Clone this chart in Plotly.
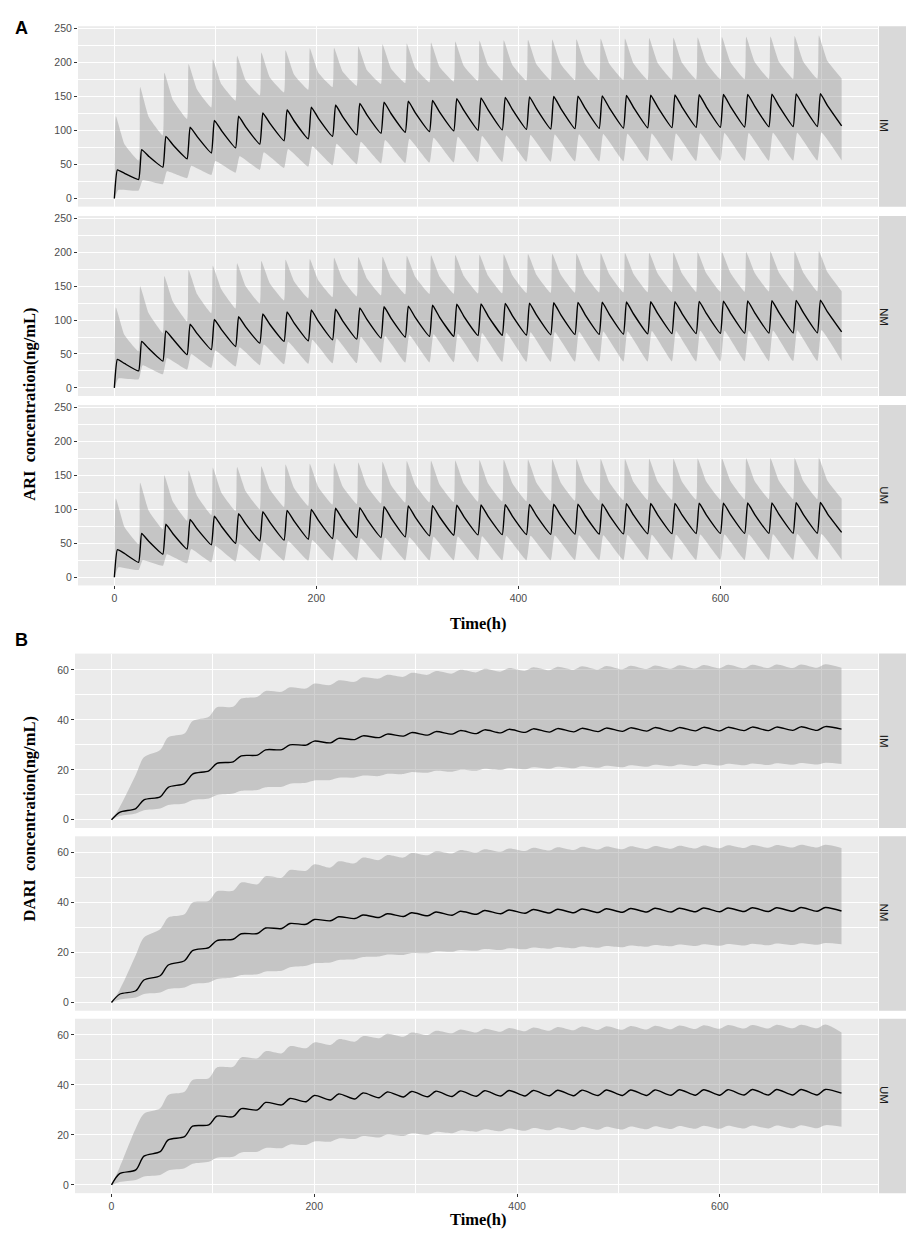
import plotly.graph_objects as go


#colors
panel_color = '#EBEBEB'
grid_color = 'white'
strip_color = '#D9D9D9'
ribbon_color = 'rgba(140,140,140,0.4)'
line_color = 'black'
tick_text_color = '#4D4D4D'
tick_color = '#333333'
strip_text_color = '#1A1A1A'

sans_font = 'Liberation Sans, Arial, sans-serif'
serif_font = 'Liberation Serif, Times New Roman, serif'

W, H = 906, 1244

# ---- time grid (h) ----
DOSE_TIMES = [0, 24, 48, 72, 96, 120, 144, 168, 192, 216, 240, 264, 288, 312, 336,
              360, 384, 408, 432, 456, 480, 504, 528, 552, 576, 600, 624, 648, 672, 696]
END_TIME = 720
PHENOTYPES = ['IM', 'NM', 'UM']

# hours after each dose where the ARI curves peak / where the mid decay point sits
ARI_MED_PEAK_H = 3
ARI_HI_PEAK_H = 1.5
ARI_LO_PEAK_H = 4
ARI_MID_H = 10
# hours after each dose where the DARI ripple tops out
DARI_PEAK_H = 8

# ---- ARI (panel A): value per dosing interval ----
# IM
ARI_IM_MED_PEAK = [42, 72, 91.5, 105, 115, 121, 126, 130.5, 134.5, 137.5, 140, 141.8, 143.3, 144.2, 147,
                   148, 148.8, 149.5, 150, 150.6, 151, 151.5, 152, 152.3, 152.7, 153, 153.3, 153.6, 153.9, 154.2]
ARI_IM_MED_MID = [37, 62, 79, 91, 100, 105.5, 110.5, 114, 118, 120.5, 123, 124.7, 126, 127, 129.5,
                  130.4, 131.2, 131.9, 132.4, 133, 133.4, 133.9, 134.3, 134.6, 135, 135.3, 135.6, 135.9, 136.2, 136.6]
ARI_IM_MED_TROUGH = [28, 46, 58.5, 67, 74.5, 80, 85, 87.7, 91.6, 93.6, 96, 97.5, 98.5, 99.5, 100.3,
                     101, 101.7, 102.3, 102.8, 103.2, 103.6, 104, 104.3, 104.6, 104.9, 105.2, 105.5, 105.8, 106, 106.8]
ARI_IM_HI_PEAK = [121, 164, 185, 198, 205, 210, 215, 218, 221, 222, 224, 227, 228, 229.5, 231,
                  232, 233, 233.5, 234, 234.5, 235, 235.5, 236, 236.5, 237, 237.5, 238, 238.5, 239, 240]
ARI_IM_HI_MID = [80, 120, 145, 160, 168, 174, 178, 182, 185, 187, 189, 191, 192, 193.5, 195,
                 196, 196.6, 197, 197.5, 198, 198.4, 198.8, 199.2, 199.6, 200, 200.4, 200.8, 201.2, 201.6, 202.2]
ARI_IM_HI_TROUGH = [56, 93, 117, 134, 144, 151.5, 156, 160, 164, 166, 168.5, 170, 171, 172, 173,
                    173.3, 173.6, 173.9, 174.2, 174.4, 174.6, 174.8, 175, 175.2, 175.4, 175.6, 175.8, 176, 176.2, 176.4]
ARI_IM_LO_PEAK = [12.7, 27, 40, 48, 55, 62, 68, 73, 77, 80.5, 83.5, 86, 88, 89.5, 91,
                  92, 92.8, 93.5, 94, 94.5, 94.9, 95.2, 95.5, 95.8, 96, 96.2, 96.4, 96.6, 96.8, 97]
ARI_IM_LO_TROUGH = [11.7, 21, 30, 34.5, 38, 42, 45, 47, 49, 50.5, 51.5, 52.3, 52.8, 53.2, 53.5,
                    53.8, 54, 54.2, 54.4, 54.6, 54.8, 55, 55.1, 55.2, 55.3, 55.4, 55.5, 55.6, 55.7, 55.8]
# NM
ARI_NM_MED_PEAK = [42, 68.6, 84, 94, 101, 105, 109, 112, 115, 116, 118, 119.6, 120.6, 122, 123.5,
                   124, 124.5, 125, 125.5, 126, 126.3, 126.6, 127, 127.3, 127.6, 128, 128.3, 128.6, 129, 129.3]
ARI_NM_MED_MID = [36, 58, 72, 80, 86, 90, 93.5, 95.5, 98, 99, 101, 102.5, 103.5, 104, 105.5,
                  106, 106.6, 107.2, 107.7, 108.2, 108.6, 109, 109.4, 109.7, 110, 110.4, 110.7, 111, 111.3, 112]
ARI_NM_MED_TROUGH = [25, 39.4, 49, 56.4, 61, 66, 68.6, 69.5, 71, 72, 73.4, 75, 75.9, 75.9, 77.3,
                     77.6, 78, 78.4, 78.8, 79.1, 79.4, 79.7, 80, 80.2, 80.4, 80.6, 80.8, 81, 81.2, 82.5]
ARI_NM_HI_PEAK = [118.7, 150, 165, 174, 180, 184, 187, 189, 190, 192, 193, 193.6, 195, 195.5, 196,
                  196.5, 197, 197.5, 198, 198.3, 198.6, 199, 199.3, 199.6, 200, 200.3, 200.6, 201, 201.3, 201.6]
ARI_NM_HI_MID = [78, 110, 127, 138, 145, 150, 154, 157, 158.5, 160, 161.5, 162.5, 163.5, 164, 165,
                 165.5, 166, 166.5, 167, 167.3, 167.6, 168, 168.3, 168.6, 169, 169.3, 169.6, 170, 170.3, 170.6]
ARI_NM_HI_TROUGH = [54, 81, 98, 110, 117, 124.5, 129, 132, 134, 135, 136.7, 138, 138.5, 139, 139.3,
                    139.6, 139.9, 140.2, 140.5, 140.7, 140.9, 141.1, 141.3, 141.5, 141.7, 141.9, 142.1, 142.3, 142.5, 142.7]
ARI_NM_LO_PEAK = [14, 33.5, 44, 50, 55, 60, 64, 68, 71, 73, 75, 76.5, 78, 79, 80,
                  80.8, 81.4, 82, 82.4, 82.8, 83.2, 83.5, 83.8, 84, 84.2, 84.4, 84.6, 84.8, 85, 85.2]
ARI_NM_LO_TROUGH = [12.6, 20, 27, 29.5, 31.5, 33.5, 34.8, 35.6, 36.2, 36.6, 37, 37.3, 37.6, 37.8, 38,
                    38.2, 38.4, 38.5, 38.6, 38.7, 38.8, 38.9, 39, 39.1, 39.2, 39.3, 39.4, 39.5, 39.6, 39.7]
# UM
ARI_UM_MED_PEAK = [40.5, 64.4, 78, 85, 90, 93.7, 96.6, 98.5, 100, 101.5, 102.4, 104, 105, 105.3, 106,
                   106.4, 106.8, 107.1, 107.4, 107.7, 108, 108.3, 108.5, 108.7, 108.9, 109.1, 109.3, 109.5, 109.7, 110]
ARI_UM_MED_MID = [35, 53, 64, 71, 75, 78.5, 80.8, 82.5, 83.7, 85, 85.6, 87, 88, 88.7, 89.3,
                  89.7, 90, 90.3, 90.6, 90.9, 91.1, 91.3, 91.5, 91.7, 91.9, 92.1, 92.3, 92.5, 92.7, 93.4]
ARI_UM_MED_TROUGH = [22, 34, 41.5, 47.8, 50, 53.7, 54.6, 56, 57, 58.5, 58.8, 59.5, 61, 62, 62.4,
                     62.7, 63, 63.2, 63.4, 63.6, 63.8, 64, 64.2, 64.4, 64.5, 64.6, 64.7, 64.8, 64.9, 66]
ARI_UM_HI_PEAK = [116, 139, 150, 157, 161, 162.4, 163.4, 166, 167, 168, 169, 170, 171, 171.5, 172,
                  172.4, 172.8, 173.2, 173.5, 173.8, 174, 174.2, 174.4, 174.6, 174.8, 175, 175.2, 175.4, 175.6, 175.8]
ARI_UM_HI_MID = [74, 98, 111, 119.5, 124.5, 126.5, 129, 131, 132.5, 133.5, 134.5, 135.5, 136.2, 136.7, 137.5,
                 138, 138.4, 138.8, 139.2, 139.5, 139.8, 140.1, 140.4, 140.7, 141, 141.2, 141.4, 141.6, 141.8, 142]
ARI_UM_HI_TROUGH = [48.8, 70.7, 83, 91.7, 97.6, 100, 103.4, 105, 107, 108, 108.8, 110, 110.3, 110.7, 111.2,
                    111.6, 112, 112.4, 112.8, 113.1, 113.4, 113.7, 114, 114.2, 114.4, 114.6, 114.8, 115, 115.2, 115.4]
ARI_UM_LO_PEAK = [14.6, 25, 34, 41.5, 46, 49, 51.5, 53.5, 55, 56.3, 57.3, 58.2, 59, 59.6, 60.1,
                  60.5, 60.9, 61.2, 61.5, 61.8, 62, 62.2, 62.4, 62.6, 62.8, 63, 63.2, 63.4, 63.6, 63.8]
ARI_UM_LO_TROUGH = [10.7, 17, 20.5, 22, 23.4, 24, 24.3, 24.5, 24.6, 24.7, 24.8, 24.9, 25, 25, 25.1,
                    25.1, 25.2, 25.2, 25.3, 25.3, 25.4, 25.4, 25.5, 25.5, 25.6, 25.6, 25.7, 25.7, 25.8, 25.8]

# ---- DARI (panel B): value at each dose time (0..720 h) and 8 h after each dose ----
# IM
DARI_IM_MED_AT_DOSE = [0, 4.5, 9.2, 14.5, 19.6, 23.2, 25.9, 28.1, 29.9, 30.8, 32.1, 32.9, 33.5, 33.9, 34.3, 34.5,
                       34.8, 35.0, 35.1, 35.2, 35.3, 35.4, 35.5, 35.5, 35.6, 35.6, 35.7, 35.7, 35.8, 35.8, 36.3]
DARI_IM_MED_AFTER = [3.0, 8.0, 13.0, 18.3, 22.6, 25.6, 28.0, 30.0, 31.5, 32.6, 33.6, 34.3, 34.9, 35.3, 35.7,
                     36.0, 36.2, 36.4, 36.5, 36.6, 36.7, 36.8, 36.9, 36.9, 37.0, 37.0, 37.1, 37.1, 37.2, 37.3]
DARI_IM_HI_AT_DOSE = [0, 18, 27.9, 34.5, 41.2, 45.2, 49.2, 51.2, 52.5, 53.9, 55.2, 56.5, 57.2, 58.0, 58.5, 59.0,
                      59.3, 59.6, 59.8, 60.0, 60.1, 60.2, 60.3, 60.4, 60.5, 60.6, 60.6, 60.7, 60.7, 60.8, 60.8]
DARI_IM_HI_AFTER = [5, 25, 33, 39.5, 45, 48.5, 51.5, 53, 54.5, 55.8, 57, 58, 58.8, 59.5, 60,
                    60.4, 60.7, 61, 61.2, 61.4, 61.5, 61.6, 61.7, 61.8, 61.9, 62, 62, 62.1, 62.1, 62.2]
DARI_IM_LO_AT_DOSE = [0, 2.5, 4.5, 6.5, 8.5, 10.5, 11.9, 13.2, 14.8, 15.9, 16.9, 17.5, 18.3, 18.8, 19.2, 19.6,
                      19.9, 20.2, 20.4, 20.6, 20.8, 21.0, 21.2, 21.4, 21.5, 21.7, 21.8, 21.9, 22.0, 22.1, 22.3]
DARI_IM_LO_AFTER = [1.5, 3.8, 5.9, 7.9, 9.9, 11.6, 13.0, 14.4, 15.7, 16.8, 17.7, 18.4, 19.1, 19.6, 20.0,
                    20.4, 20.7, 21.0, 21.2, 21.4, 21.6, 21.8, 22.0, 22.1, 22.3, 22.4, 22.5, 22.6, 22.7, 22.8]
# NM
DARI_NM_MED_AT_DOSE = [0, 4.7, 10.7, 16.7, 22.0, 25.3, 27.6, 29.6, 31.3, 32.7, 33.6, 34.0, 34.4, 34.7, 34.9, 35.3,
                       35.5, 35.7, 35.8, 35.9, 36.0, 36.1, 36.2, 36.2, 36.3, 36.3, 36.4, 36.4, 36.5, 36.5, 36.6]
DARI_NM_MED_AFTER = [3.3, 9.0, 15.0, 20.8, 24.8, 27.5, 29.8, 31.6, 33.2, 34.3, 35.0, 35.5, 35.9, 36.2, 36.5,
                     36.8, 37.0, 37.2, 37.3, 37.4, 37.5, 37.6, 37.7, 37.7, 37.8, 37.8, 37.9, 37.9, 38.0, 38.0]
DARI_NM_HI_AT_DOSE = [0, 19, 29.3, 35.3, 40.7, 44.7, 47.3, 50, 52.7, 54, 55.7, 57, 58, 58.9, 59.6, 60,
                      60.3, 60.6, 60.8, 61.0, 61.2, 61.3, 61.4, 61.5, 61.6, 61.7, 61.8, 61.9, 62.0, 62.0, 61.8]
DARI_NM_HI_AFTER = [5, 26, 34, 40, 44.5, 48, 50.5, 53, 55.3, 56.5, 58, 59, 59.8, 60.5, 61,
                    61.3, 61.6, 61.9, 62.1, 62.3, 62.4, 62.5, 62.6, 62.7, 62.8, 62.9, 63.0, 63.0, 63.1, 63.1]
DARI_NM_LO_AT_DOSE = [0, 2, 4, 6, 8, 10, 11.3, 12.7, 14.7, 16, 17.3, 18.4, 19, 19.7, 20.3, 20.7,
                      21.0, 21.3, 21.5, 21.7, 21.9, 22.1, 22.3, 22.5, 22.6, 22.7, 22.8, 22.9, 23.0, 23.1, 23.3]
DARI_NM_LO_AFTER = [1.2, 3.4, 5.4, 7.4, 9.4, 11, 12.4, 14.1, 15.7, 17, 18.2, 19.2, 19.8, 20.5, 21.0,
                    21.4, 21.7, 22.0, 22.2, 22.4, 22.6, 22.8, 23.0, 23.2, 23.3, 23.4, 23.5, 23.6, 23.7, 23.8]
# UM
DARI_UM_MED_AT_DOSE = [0, 6, 13.3, 19.3, 24, 27.3, 30, 32, 33.3, 34, 34.4, 34.9, 35.2, 35.3, 35.4, 35.5,
                       35.6, 35.6, 35.7, 35.7, 35.8, 35.8, 35.8, 35.9, 35.9, 35.9, 36.0, 36.0, 36.0, 36.0, 36.7]
DARI_UM_MED_AFTER = [4.5, 11.5, 18, 23.5, 27.5, 30.5, 33, 34.6, 35.8, 36.4, 36.8, 37.2, 37.4, 37.5, 37.6,
                     37.7, 37.8, 37.8, 37.9, 37.9, 38.0, 38.0, 38.0, 38.1, 38.1, 38.1, 38.2, 38.2, 38.2, 38.2]
DARI_UM_HI_AT_DOSE = [0, 22.7, 30.7, 37.3, 42.7, 47.3, 50.7, 52.7, 54.7, 56, 57.3, 58.7, 59.3, 60, 60.7, 61,
                      61.3, 61.5, 61.7, 61.9, 62.0, 62.1, 62.2, 62.3, 62.4, 62.5, 62.6, 62.6, 62.7, 62.7, 61.0]
DARI_UM_HI_AFTER = [7, 28.5, 36, 42, 47, 51, 53.5, 55.5, 57, 58.3, 59.5, 60.5, 61, 61.7, 62.2,
                    62.5, 62.8, 63, 63.2, 63.4, 63.5, 63.6, 63.7, 63.8, 63.9, 64, 64, 64.1, 64.1, 64.2]
DARI_UM_LO_AT_DOSE = [0, 2, 4, 6.7, 9.3, 11.3, 13.3, 14.7, 16, 17.3, 18.4, 19, 19.6, 20, 20.7, 21.3,
                      21.5, 21.7, 21.9, 22, 22.1, 22.2, 22.3, 22.4, 22.5, 22.5, 22.6, 22.6, 22.7, 22.7, 23.3]
DARI_UM_LO_AFTER = [1.2, 3.4, 5.8, 8.5, 10.9, 13, 14.8, 16.2, 17.4, 18.6, 19.6, 20.2, 20.7, 21.2, 21.8,
                    22.3, 22.6, 22.8, 23.0, 23.2, 23.3, 23.4, 23.5, 23.6, 23.7, 23.7, 23.8, 23.8, 23.9, 23.9]

# y ticks
ARI_Y_TICKS = [0, 50, 100, 150, 200, 250]
DARI_Y_TICKS = [0, 20, 40, 60]
X_TICKS = [0, 200, 400, 600]


ARI_DATA = {
    'IM': dict(med=(ARI_IM_MED_PEAK, ARI_IM_MED_MID, ARI_IM_MED_TROUGH),
               hi=(ARI_IM_HI_PEAK, ARI_IM_HI_MID, ARI_IM_HI_TROUGH),
               lo=(ARI_IM_LO_PEAK, ARI_IM_LO_TROUGH)),
    'NM': dict(med=(ARI_NM_MED_PEAK, ARI_NM_MED_MID, ARI_NM_MED_TROUGH),
               hi=(ARI_NM_HI_PEAK, ARI_NM_HI_MID, ARI_NM_HI_TROUGH),
               lo=(ARI_NM_LO_PEAK, ARI_NM_LO_TROUGH)),
    'UM': dict(med=(ARI_UM_MED_PEAK, ARI_UM_MED_MID, ARI_UM_MED_TROUGH),
               hi=(ARI_UM_HI_PEAK, ARI_UM_HI_MID, ARI_UM_HI_TROUGH),
               lo=(ARI_UM_LO_PEAK, ARI_UM_LO_TROUGH)),
}
DARI_DATA = {
    'IM': dict(med=(DARI_IM_MED_AT_DOSE, DARI_IM_MED_AFTER), hi=(DARI_IM_HI_AT_DOSE, DARI_IM_HI_AFTER),
               lo=(DARI_IM_LO_AT_DOSE, DARI_IM_LO_AFTER)),
    'NM': dict(med=(DARI_NM_MED_AT_DOSE, DARI_NM_MED_AFTER), hi=(DARI_NM_HI_AT_DOSE, DARI_NM_HI_AFTER),
               lo=(DARI_NM_LO_AT_DOSE, DARI_NM_LO_AFTER)),
    'UM': dict(med=(DARI_UM_MED_AT_DOSE, DARI_UM_MED_AFTER), hi=(DARI_UM_HI_AT_DOSE, DARI_UM_HI_AFTER),
               lo=(DARI_UM_LO_AT_DOSE, DARI_UM_LO_AFTER)),
}


def interval_ends():
    return DOSE_TIMES[1:] + [END_TIME]


def ariPath(peaks, troughs, mids=None, peak_h=3):
    """sawtooth path: rise to the peak after each dose, decay to the trough at the next dose"""
    t, y = [0], [0]
    for i, (dose, end) in enumerate(zip(DOSE_TIMES, interval_ends())):
        t.append(dose + peak_h)
        y.append(peaks[i])
        if mids is not None:
            t.append(dose + ARI_MID_H)
            y.append(mids[i])
        t.append(end)
        y.append(troughs[i])
    return t, y


def dariPath(at_dose, after):
    t, y = [DOSE_TIMES[0]], [at_dose[0]]
    for i, (dose, end) in enumerate(zip(DOSE_TIMES, interval_ends())):
        t += [dose + DARI_PEAK_H, end]
        y += [after[i], at_dose[i + 1]]
    return t, y


# panel boxes in pixels: (left, top, right, bottom)
A_LEFT, B_LEFT, PANEL_RIGHT = 78, 75, 878
BOXES = [
    (A_LEFT, 22.3, PANEL_RIGHT, 203.3),
    (A_LEFT, 212.7, PANEL_RIGHT, 393.3),
    (A_LEFT, 402.3, PANEL_RIGHT, 583.3),
    (B_LEFT, 651.7, PANEL_RIGHT, 826.7),
    (B_LEFT, 835.0, PANEL_RIGHT, 1010.0),
    (B_LEFT, 1018.0, PANEL_RIGHT, 1193.0),
]
STRIP_LEFT, STRIP_RIGHT = 879, 906


def px(x):
    return x / W


def py(y):
    return 1 - y / H


fig = go.Figure()

panels = [('ARI', ph) for ph in PHENOTYPES] + [('DARI', ph) for ph in PHENOTYPES]

for k, (drug, ph) in enumerate(panels):
    n = k + 1
    xa = 'x' if n == 1 else f'x{n}'
    ya = 'y' if n == 1 else f'y{n}'

    if drug == 'ARI':
        d = ARI_DATA[ph]
        t_hi, y_hi = ariPath(d['hi'][0], d['hi'][2], d['hi'][1], ARI_HI_PEAK_H)
        t_lo, y_lo = ariPath(d['lo'][0], d['lo'][1], None, ARI_LO_PEAK_H)
        t_med, y_med = ariPath(d['med'][0], d['med'][2], d['med'][1], ARI_MED_PEAK_H)
        smooth = 0.35
    else:
        d = DARI_DATA[ph]
        t_hi, y_hi = dariPath(*d['hi'])
        t_lo, y_lo = dariPath(*d['lo'])
        t_med, y_med = dariPath(*d['med'])
        smooth = 0.8

    # ribbon (5th-95th percentile band): lower edge, then upper edge filled down to it
    fig.add_trace(go.Scatter(
        x=t_lo, y=y_lo,
        mode='lines',
        line=dict(width=0, shape='spline', smoothing=smooth),
        hoverinfo='skip',
        showlegend=False,
        xaxis=xa, yaxis=ya,
    ))
    fig.add_trace(go.Scatter(
        x=t_hi, y=y_hi,
        fill='tonexty',
        fillcolor=ribbon_color,
        line=dict(width=0, shape='spline', smoothing=smooth),
        mode='lines',
        hoverinfo='skip',
        showlegend=False,
        xaxis=xa, yaxis=ya,
    ))
    # median
    fig.add_trace(go.Scatter(
        x=t_med, y=y_med,
        mode='lines',
        line=dict(color=line_color, width=1.4, shape='spline', smoothing=smooth),
        showlegend=False,
        xaxis=xa, yaxis=ya,
    ))

    left, top, right, bottom = BOXES[k]
    bottom_facet = ph == 'UM'
    tickfont = dict(family=sans_font, size=10.5, color=tick_text_color)

    fig.layout[f'xaxis{n if n > 1 else ""}'] = dict(
        domain=[px(left), px(right)],
        anchor=ya,
        range=[-36, 756],
        tickvals=X_TICKS,
        showgrid=True, gridcolor=grid_color, gridwidth=1.1,
        minor=dict(dtick=100, tick0=0, showgrid=True, gridcolor=grid_color, gridwidth=0.55),
        zeroline=False, showline=False,
        ticks='outside' if bottom_facet else '',
        ticklen=3, tickwidth=1, tickcolor=tick_color,
        showticklabels=bottom_facet,
        tickfont=tickfont,
    )
    if drug == 'ARI':
        y_range, y_ticks, y_minor = [-12, 253.5], ARI_Y_TICKS, 25
    else:
        y_range, y_ticks, y_minor = [-3.3, 66.5], DARI_Y_TICKS, 10
    fig.layout[f'yaxis{n if n > 1 else ""}'] = dict(
        domain=[py(bottom), py(top)],
        anchor=xa,
        range=y_range,
        tickvals=y_ticks,
        showgrid=True, gridcolor=grid_color, gridwidth=1.1,
        minor=dict(dtick=y_minor, tick0=0, showgrid=True, gridcolor=grid_color, gridwidth=0.55),
        zeroline=False, showline=False,
        ticks='outside', ticklen=3, tickwidth=1, tickcolor=tick_color,
        tickfont=tickfont,
    )

    # facet strip on the right
    fig.add_shape(
        type='rect', xref='paper', yref='paper',
        x0=px(STRIP_LEFT), x1=px(STRIP_RIGHT) + 0.01, y0=py(bottom), y1=py(top),
        fillcolor=strip_color, line=dict(width=0), layer='below',
    )
    fig.add_annotation(
        x=px(STRIP_LEFT + 13), y=py((top + bottom) / 2), xref='paper', yref='paper',
        text=ph, textangle=90, showarrow=False,
        font=dict(family=sans_font, size=11.5, color=strip_text_color),
    )

# axis titles and panel letters
title_font = dict(family=serif_font, size=16.5, color='black', weight='bold')
for label, y_mid, x_title_y in [('ARI\u00a0 concentration(ng/mL)', (22.3 + 583.3) / 2, 621),
                                 ('DARI\u00a0 concentration(ng/mL)', (651.7 + 1193) / 2, 1231)]:
    fig.add_annotation(
        x=px(18), y=py(y_mid), xref='paper', yref='paper',
        text=label, textangle=-90, showarrow=False, font=title_font,
    )
    fig.add_annotation(
        x=px((A_LEFT + PANEL_RIGHT) / 2), y=py(x_title_y), xref='paper', yref='paper',
        text='Time(h)', showarrow=False, font=title_font,
    )

for letter, y_pos in [('A', 12), ('B', 638)]:
    fig.add_annotation(
        x=px(13), y=py(y_pos), xref='paper', yref='paper',
        text=letter, showarrow=False,
        font=dict(family=sans_font, size=18, color='black', weight='bold'),
    )

fig.update_layout(
    width=W, height=H,
    margin=dict(l=0, r=0, t=0, b=0),
    paper_bgcolor='white',
    plot_bgcolor=panel_color,
    showlegend=False,
)

# the page body has a default 8px margin; drop it so the figure sits at the window corner
fig.write_html("out.html", config={'displayModeBar': False},
               post_script="document.body.style.margin='0';")
